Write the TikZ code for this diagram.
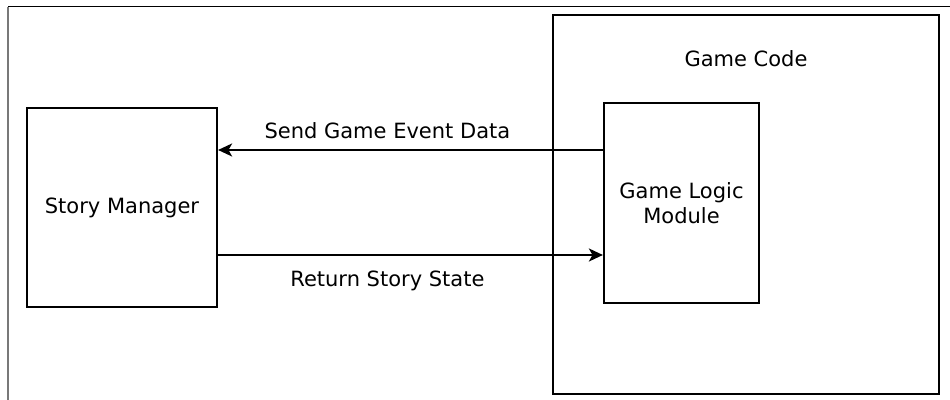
\documentclass[tikz,border=0pt]{standalone}
\usepackage{fontspec}
\setmainfont{DejaVu Sans}
\usepackage{xcolor}
\usepackage{tikz}
\usetikzlibrary{
  positioning,
  arrows.meta
}
\definecolor{framegray}{RGB}{120,120,120}

\begin{document}
\begin{tikzpicture}[
  x=0.5pt, y=0.5pt,
  >={Stealth[length=7pt, width=6.5pt, inset=1.8pt]},
  % --- node styles ---
  block/.style={
    draw=black, line width=1.1pt, fill=white,
    font=\fontsize{10.5}{12.5}\selectfont, align=center
  },
  lbl/.style={font=\fontsize{10.5}{12.5}\selectfont, align=center},
  arr/.style={->, line width=1pt, black},
]
\useasboundingbox (0,0) rectangle (950,400);

% Page frame
\draw[line width=0.5pt] (8,393) -- (950,393);
\draw[line width=0.7pt, framegray] (8,393) -- (8,0);

% Boxes
\node[block, minimum width=95pt, minimum height=99.5pt] (story) at (122,192.5) {Story Manager};
\node[block, minimum width=193pt, minimum height=189.5pt] (gamecode) at (746,195.5) {};
\node[lbl, below=15pt of gamecode.north] (gamecodelbl) {Game Code};
\node[block, minimum width=77.5pt, minimum height=100pt] (logic) at (681.5,197) {Game Logic\\Module};

% ─── Arrows ──────────────────────────────────────────────────────────────
\coordinate (sendstart) at ([yshift=26.5pt]logic.west);
\draw[arr] (sendstart) -- (sendstart -| story.east)
  node[lbl, above=2pt, pos=0.56] {Send Game Event Data};

\coordinate (retstart) at ([yshift=-23.75pt]story.east);
\draw[arr] (retstart) -- (retstart -| logic.west)
  node[lbl, below=4pt, pos=0.44] {Return Story State};

\end{tikzpicture}
\end{document}
